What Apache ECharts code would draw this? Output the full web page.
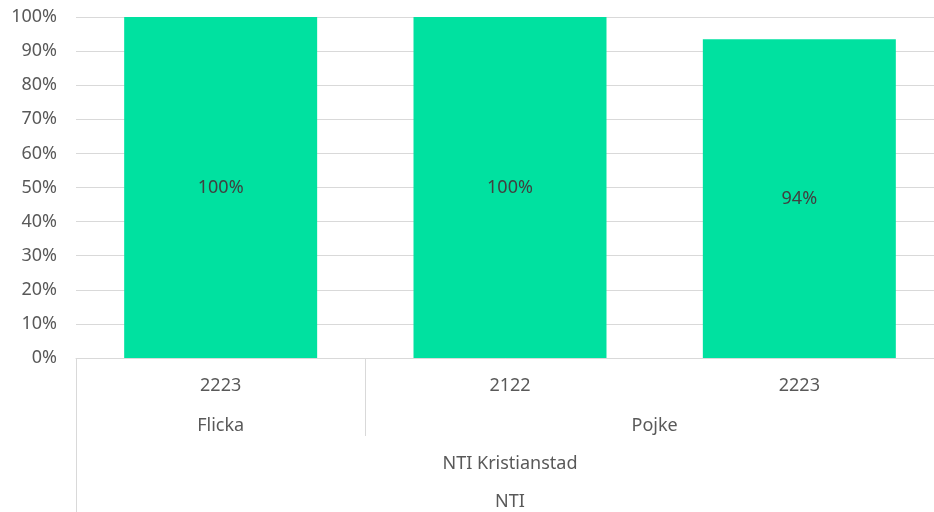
<!DOCTYPE html>
<html>
<head>
    <meta charset="utf-8">
    <title>NTI</title>
    <script src="https://cdn.jsdelivr.net/npm/echarts@6/dist/echarts.min.js"></script>
</head>
<body style="padding:0px;margin:0px;">
    <div id="main" style="width:934px;height:512px;"></div>
    <script type="text/javascript">
        // kategorier, nivå för nivå (innerst först)
        var years = ['2223', '2122', '2223'];
        var genders = ['Flicka', 'Pojke'];
        var genderSpan = [1, 2];
        var schools = ['NTI Kristianstad'];
        var schoolSpan = [3];
        var orgs = ['NTI'];
        var orgSpan = [3];
        // andel per kategori
        var values = [1.0, 1.0, 0.935];

        var fontFam = '"Noto Sans", sans-serif';
        var textCol = '#595959';
        var lineCol = '#d9d9d9';

        // mitten och gränser för varje grupp
        function centers(spans) {
            var out = [], s = 0;
            spans.forEach(function (n) { out.push(s + n / 2); s += n; });
            return out;
        }
        function borders(spans) {
            var out = [], s = 0;
            spans.forEach(function (n, i) { s += n; if (i < spans.length - 1) out.push(s); });
            return out;
        }

        function levelAxis(names, spans, margin, tickVals, tickLen) {
            var c = centers(spans);
            return {
                type: 'value',
                position: 'bottom',
                min: 0,
                max: years.length,
                axisLine: { show: false, onZero: false },
                splitLine: { show: false },
                axisTick: {
                    show: tickVals.length > 0,
                    customValues: tickVals,
                    length: tickLen,
                    lineStyle: { color: lineCol, width: 1 }
                },
                axisLabel: {
                    customValues: c,
                    margin: margin,
                    fontFamily: fontFam,
                    fontSize: 18,
                    color: textCol,
                    formatter: function (v) {
                        for (var i = 0; i < c.length; i++) {
                            if (Math.abs(c[i] - v) < 1e-6) return names[i];
                        }
                        return '';
                    }
                }
            };
        }

        var myChart = echarts.init(document.getElementById('main'));

        // ritytan går lite utanför bildens högerkant, som i originalet
        var option = {
            backgroundColor: '#ffffff',
            animation: false,
            grid: { left: 76, width: 868, top: 17, height: 341, outerBoundsMode: 'none', containLabel: false },
            xAxis: [
                {
                    type: 'category',
                    position: 'bottom',
                    data: years,
                    axisLine: { onZero: false, lineStyle: { color: lineCol, width: 1 } },
                    axisTick: { show: false },
                    axisLabel: { margin: 19, fontFamily: fontFam, fontSize: 18, color: textCol }
                },
                levelAxis(genders, genderSpan, 59, borders(genderSpan), 78),
                levelAxis(schools, schoolSpan, 97, [0], 154),
                levelAxis(orgs, orgSpan, 135, [], 0)
            ],
            yAxis: {
                type: 'value',
                min: 0,
                max: 1,
                interval: 0.1,
                axisLine: { show: false, onZero: false },
                axisTick: { show: false },
                splitLine: { lineStyle: { color: lineCol, width: 1 } },
                axisLabel: {
                    margin: 19,
                    fontFamily: fontFam,
                    fontSize: 18,
                    color: textCol,
                    formatter: function (v) { return Math.round(v * 100) + '%'; }
                }
            },
            series: [{
                type: 'bar',
                xAxisIndex: 0,
                data: values,
                barWidth: '66.7%',
                itemStyle: { color: '#00E1A0' },
                label: {
                    show: true,
                    position: 'inside',
                    fontFamily: fontFam,
                    fontSize: 18,
                    color: '#404040',
                    formatter: function (p) { return Math.round(p.value * 100) + '%'; }
                }
            }]
        };
        myChart.setOption(option);
    </script>
</body>
</html>
